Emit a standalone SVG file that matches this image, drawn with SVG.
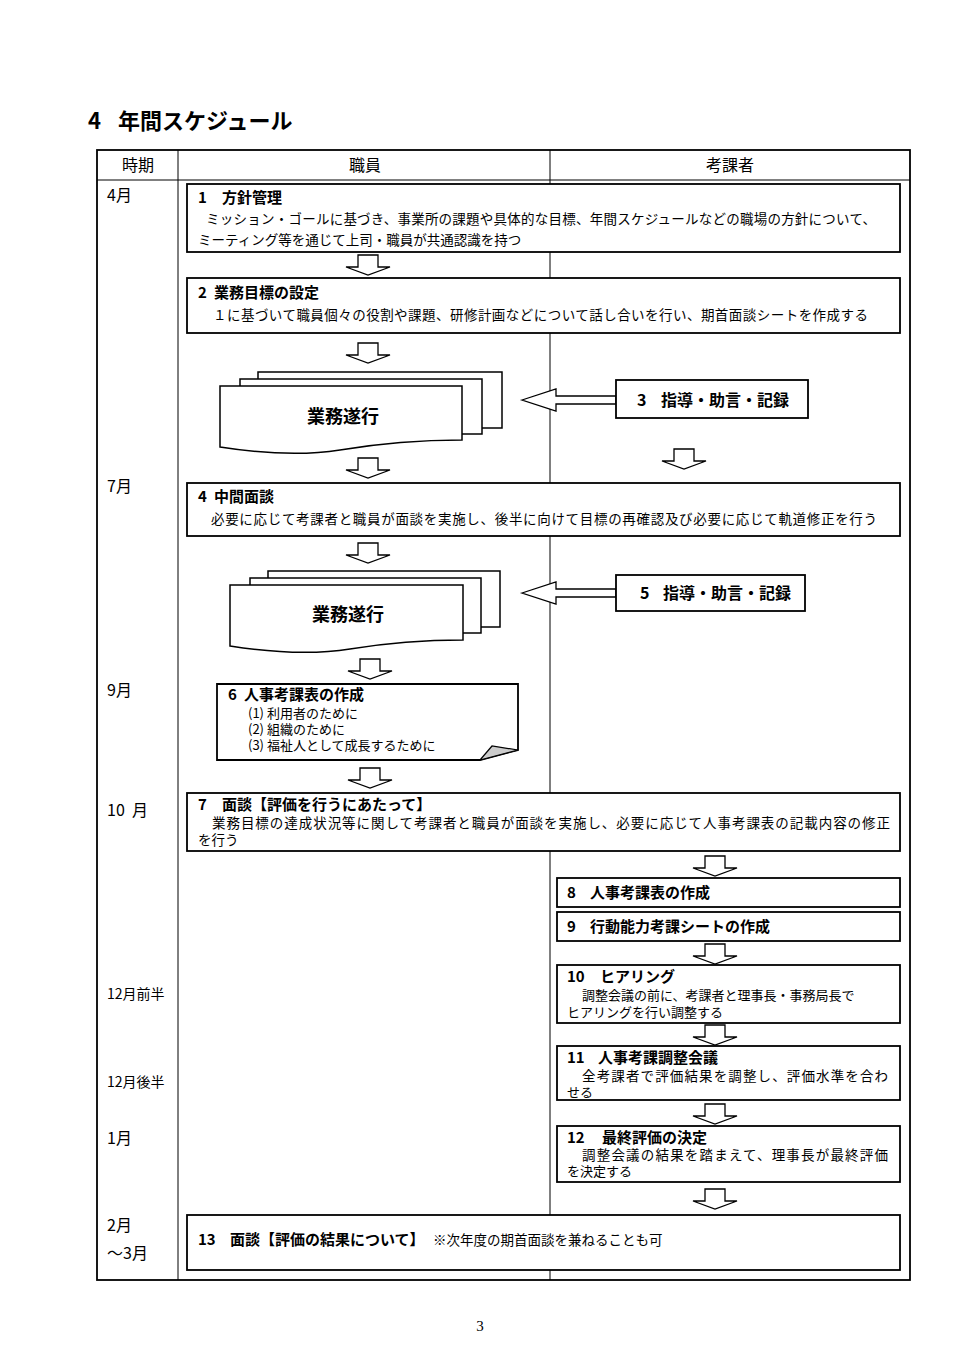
<svg xmlns="http://www.w3.org/2000/svg" xmlns:xlink="http://www.w3.org/1999/xlink" width="960" height="1358" viewBox="0 0 960 1358">
<style>
text{font-family:"Noto Sans CJK JP","Noto Sans",sans-serif;fill:#000}
.t{font-size:15px;font-weight:bold}
.b{font-size:13.5px}
.c{font-size:13px}
.m{font-size:16px}
.s{font-size:14px}
.box{fill:#fff;stroke:#000;stroke-width:1.8}
.grid{fill:none;stroke:#000;stroke-width:1}
.arr{fill:#fff;stroke:#000;stroke-width:1.3;stroke-linejoin:miter}
</style>
<defs>
<path id="darr" d="M-10,0 H10 V12 H22 L0,20 L-22,12 H-10 Z"/>
</defs>
<rect width="960" height="1358" fill="#fff"/>
<text y="129" style="font-size:22px;font-weight:bold"><tspan x="88">4</tspan><tspan x="118">年間スケジュール</tspan></text>

<g id="table">
<rect x="97" y="150" width="813" height="1130" fill="none" stroke="#000" stroke-width="1.8"/>
<line class="grid" x1="97" y1="180" x2="910" y2="180"/>
<line class="grid" x1="178" y1="150" x2="178" y2="1280"/>
<line class="grid" x1="550" y1="150" x2="550" y2="1280"/>
<text class="m" x="138" y="171" text-anchor="middle">時期</text>
<text class="m" x="365" y="171" text-anchor="middle">職員</text>
<text class="m" x="730" y="171" text-anchor="middle">考課者</text>
<text class="m" x="107" y="201">4月</text>
<text class="m" x="107" y="492">7月</text>
<text class="m" x="107" y="696">9月</text>
<text class="m" y="816"><tspan x="107">10</tspan><tspan x="132">月</tspan></text>
<text class="s" x="107" y="999">12月前半</text>
<text class="s" x="107" y="1087">12月後半</text>
<text class="m" x="107" y="1144">1月</text>
<text class="m" x="107" y="1231">2月</text>
<text class="m" x="107" y="1259">～3月</text>
</g>

<g id="connectors">
<use xlink:href="#darr" class="arr" transform="translate(368,255)"/>
<use xlink:href="#darr" class="arr" transform="translate(368,343)"/>
<use xlink:href="#darr" class="arr" transform="translate(368,458)"/>
<use xlink:href="#darr" class="arr" transform="translate(684,449)"/>
<use xlink:href="#darr" class="arr" transform="translate(368,543)"/>
<use xlink:href="#darr" class="arr" transform="translate(370,659)"/>
<use xlink:href="#darr" class="arr" transform="translate(370,768)"/>
<use xlink:href="#darr" class="arr" transform="translate(715,856)"/>
<use xlink:href="#darr" class="arr" transform="translate(715,944)"/>
<use xlink:href="#darr" class="arr" transform="translate(715,1025)"/>
<use xlink:href="#darr" class="arr" transform="translate(715,1104)"/>
<use xlink:href="#darr" class="arr" transform="translate(715,1189)"/>
<path class="arr" d="M522,400 L556,389 V396 H616 V404 H556 V411 Z"/>
<path class="arr" d="M522,593 L556,582 V589 H616 V597 H556 V604 Z"/>
</g>

<g id="n1">
<rect class="box" x="187" y="184" width="713" height="68"/>
<text class="t" y="203"><tspan x="198">1</tspan><tspan x="222">方針管理</tspan></text>
<text class="b" x="206" y="224" textLength="670">ミッション・ゴールに基づき、事業所の課題や具体的な目標、年間スケジュールなどの職場の方針について、</text>
<text class="b" x="198" y="245">ミーティング等を通じて上司・職員が共通認識を持つ</text>
</g>

<g id="n2">
<rect class="box" x="187" y="278" width="713" height="55"/>
<text class="t" y="298"><tspan x="198">2</tspan><tspan x="214">業務目標の設定</tspan></text>
<text class="b" x="213" y="320" textLength="655">１に基づいて職員個々の役割や課題、研修計画などについて話し合いを行い、期首面談シートを作成する</text>
</g>

<g id="doc1">
<rect class="box" x="258" y="372" width="244" height="56" style="stroke-width:1.5"/>
<rect class="box" x="240" y="379" width="242" height="55" style="stroke-width:1.5"/>
<path class="box" style="stroke-width:1.5" d="M220,386 H462 V440 Q400,440 340,450 Q290,458 220,447 Z"/>
<text x="343" y="423" text-anchor="middle" style="font-size:18px;font-weight:bold">業務遂行</text>
</g>

<g id="n3">
<rect class="box" x="616" y="380" width="192" height="38"/>
<text y="406" style="font-size:16px;font-weight:bold"><tspan x="637">3</tspan><tspan x="661">指導・助言・記録</tspan></text>
</g>

<g id="n4">
<rect class="box" x="187" y="483" width="713" height="53"/>
<text class="t" y="502"><tspan x="198">4</tspan><tspan x="214">中間面談</tspan></text>
<text class="b" x="211" y="524" textLength="666">必要に応じて考課者と職員が面談を実施し、後半に向けて目標の再確認及び必要に応じて軌道修正を行う</text>
</g>

<g id="doc2">
<rect class="box" x="268" y="571" width="232" height="56" style="stroke-width:1.5"/>
<rect class="box" x="250" y="578" width="231" height="55" style="stroke-width:1.5"/>
<path class="box" style="stroke-width:1.5" d="M230,585 H463 V640 Q405,640 350,649 Q300,657 230,646 Z"/>
<text x="348" y="621" text-anchor="middle" style="font-size:18px;font-weight:bold">業務遂行</text>
</g>

<g id="n5">
<rect class="box" x="616" y="575" width="189" height="36"/>
<text y="599" style="font-size:16px;font-weight:bold"><tspan x="640">5</tspan><tspan x="663">指導・助言・記録</tspan></text>
</g>

<g id="n6">
<path class="box" d="M217,684 H518 V750 L480,760 H217 Z"/>
<path d="M480,760 L492,746 L518,750 Z" fill="#ccc" stroke="#000" stroke-width="1.2"/>
<text class="t" y="700"><tspan x="228">6</tspan><tspan x="244">人事考課表の作成</tspan></text>
<text class="c" x="248" y="718">(1) 利用者のために</text>
<text class="c" x="248" y="734">(2) 組織のために</text>
<text class="c" x="248" y="750">(3) 福祉人として成長するために</text>
</g>

<g id="n7">
<rect class="box" x="187" y="793" width="713" height="58"/>
<text class="t" y="810"><tspan x="198">7</tspan><tspan x="222">面談【評価を行うにあたって】</tspan></text>
<text class="b" x="212" y="828" textLength="678">業務目標の達成状況等に関して考課者と職員が面談を実施し、必要に応じて人事考課表の記載内容の修正</text>
<text class="b" x="198" y="845">を行う</text>
</g>

<g id="n8">
<rect class="box" x="557" y="878" width="343" height="29"/>
<text class="t" y="898"><tspan x="567">8</tspan><tspan x="590">人事考課表の作成</tspan></text>
</g>

<g id="n9">
<rect class="box" x="557" y="912" width="343" height="29"/>
<text class="t" y="932"><tspan x="567">9</tspan><tspan x="590">行動能力考課シートの作成</tspan></text>
</g>

<g id="n10">
<rect class="box" x="557" y="965" width="343" height="58"/>
<text class="t" y="982"><tspan x="567">10</tspan><tspan x="600">ヒアリング</tspan></text>
<text class="c" x="582" y="1000">調整会議の前に、考課者と理事長・事務局長で</text>
<text class="c" x="567" y="1017">ヒアリングを行い調整する</text>
</g>

<g id="n11">
<rect class="box" x="557" y="1046" width="343" height="54"/>
<text class="t" y="1063"><tspan x="567">11</tspan><tspan x="598">人事考課調整会議</tspan></text>
<text class="b" x="582" y="1081" textLength="306">全考課者で評価結果を調整し、評価水準を合わ</text>
<text class="c" x="567" y="1097">せる</text>
</g>

<g id="n12">
<rect class="box" x="557" y="1126" width="343" height="56"/>
<text class="t" y="1143"><tspan x="567">12</tspan><tspan x="602">最終評価の決定</tspan></text>
<text class="b" x="582" y="1160" textLength="306">調整会議の結果を踏まえて、理事長が最終評価</text>
<text class="c" x="567" y="1176">を決定する</text>
</g>

<g id="n13">
<rect class="box" x="187" y="1215" width="713" height="55"/>
<text class="t" y="1245"><tspan x="198">13</tspan><tspan x="230">面談【評価の結果について】</tspan></text>
<text class="b" x="433" y="1245">※次年度の期首面談を兼ねることも可</text>
</g>

<text x="480" y="1331" text-anchor="middle" style="font-family:'Liberation Serif',serif;font-size:15px">3</text>
</svg>
